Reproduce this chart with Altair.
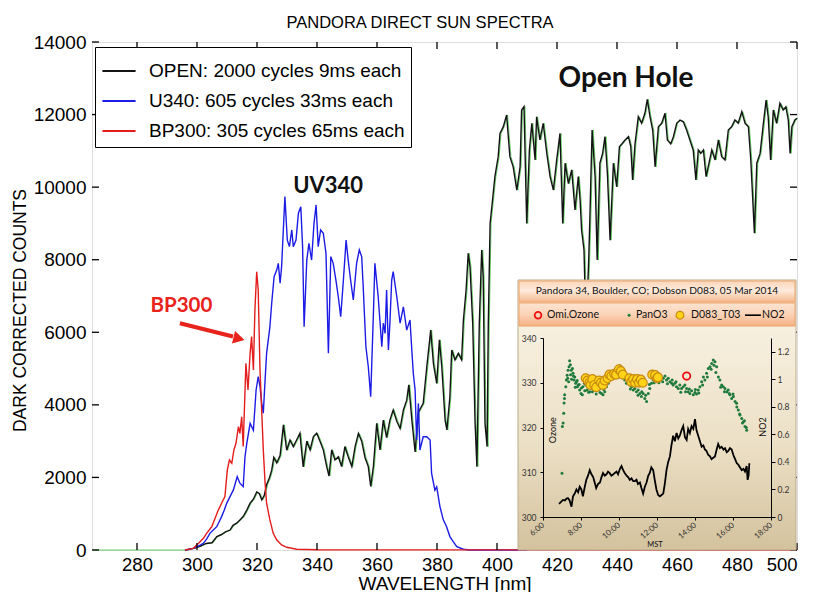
import altair as alt
import pandas as pd

# ---------------- text ----------------
TITLE = "PANDORA DIRECT SUN SPECTRA"
X_TITLE = "WAVELENGTH [nm]"
Y_TITLE = "DARK CORRECTED COUNTS"
X_TICKS = [280, 300, 320, 340, 360, 380, 400, 420, 440, 460, 480, 500]
Y_TICKS = [0, 2000, 4000, 6000, 8000, 10000, 12000, 14000]
SERIES = ["OPEN: 2000 cycles 9ms each", "U340: 605 cycles 33ms each", "BP300: 305 cycles 65ms each"]
SERIES_COLORS = ["#141414", "#1c1ce6", "#e41c1c"]

# ---------------- spectra (wavelength nm, counts) ----------------
OPEN_SPEC = [
    [265, 0], [280, 0], [296, 0], [297, 10], [299, 50], [301, 100], [303, 180], [305, 200],
    [306.6, 370], [308, 420], [309.5, 500], [311, 550], [312, 680], [313.2, 740], [314.3, 830],
    [315.4, 920], [316.6, 1100], [317.7, 1290], [318.8, 1400], [319.9, 1600], [320.8, 1550],
    [321.6, 1380], [322.4, 1500], [323.2, 1800], [324.2, 2000], [324.9, 2200], [325.6, 2550],
    [326.6, 2400], [327.7, 2600], [328.8, 3450], [329.9, 2750], [331, 3030], [332.1, 2850],
    [333.2, 3030], [334.3, 3215], [335.4, 2290], [336.6, 3000], [337.7, 2760], [338.8, 3125],
    [339.9, 3215], [341, 3000], [342.1, 2760], [343.2, 2310], [344, 2040], [344.9, 2760],
    [346, 2480], [347.1, 2570], [348.2, 2300], [349.3, 2850], [350.4, 2570], [351.6, 2300],
    [352.7, 2850], [353.8, 3215], [354.9, 3000], [356, 2550], [357.1, 2300], [357.9, 1750],
    [358.8, 2300], [359.9, 3490], [361, 2760], [362.1, 3580], [363.2, 3100], [364.3, 3580],
    [365.4, 3860], [366.6, 3550], [367.7, 3350], [368.8, 3860], [369.9, 4130], [370.6, 4550],
    [371.6, 3600], [372.7, 2700], [373.8, 3800], [375.4, 4040], [376.6, 5050], [377.9, 6060],
    [378.8, 5145], [379.9, 4590], [380.8, 5790], [381.6, 5050], [382.7, 3580], [383.3, 3310],
    [384.3, 4225], [384.9, 5510], [386, 5240], [387.1, 5420], [388.2, 5240], [388.8, 6340],
    [389.7, 7165], [390.4, 8177], [391, 7810], [391.9, 6250], [392.7, 3490], [393.3, 2297],
    [394.1, 6250], [394.9, 8270], [395.4, 7530], [396, 3490], [396.7, 2850], [397.1, 6250],
    [397.7, 9000], [398.4, 9555], [399.3, 10290], [400.4, 10840], [401, 11480], [402.1, 11667],
    [403.2, 11990], [404.3, 10840], [405.4, 10560], [406.6, 9920], [407.7, 10560], [408.2, 12125],
    [409, 12220], [409.9, 9000], [410.8, 11025], [411.6, 11760], [412.7, 10750], [413.2, 11940],
    [414.3, 11300], [415.4, 11760], [416.6, 10930], [417.7, 10290], [418.8, 9920], [419.9, 10750],
    [421, 11480], [421.9, 9000], [422.7, 10660], [423.8, 10100], [424.9, 10475], [426, 9370],
    [427.1, 10290], [427.7, 9645], [428.2, 8820], [429, 8270], [429.6, 6300], [430.1, 6900],
    [430.6, 8085], [431, 9280], [431.7, 11575], [432.7, 10290], [433.4, 7990], [434.3, 10660],
    [435.2, 10930], [436, 11390], [436.8, 10380], [437.7, 8540], [438.8, 10660], [439.9, 10010],
    [440.8, 11115], [441.6, 11190], [442.7, 11300], [443.8, 11390], [444.6, 11115], [445.2, 10200],
    [446, 11190], [447.1, 11940], [448.2, 11760], [449.3, 12035], [450.1, 12420], [451, 11940],
    [451.9, 11575], [452.7, 10560], [453.8, 11665], [454.9, 11760], [456, 12035], [456.8, 11300],
    [457.9, 11190], [458.8, 11390], [459.9, 11760], [461, 11850], [462.1, 11800], [463.2, 11575],
    [464.3, 11300], [465.4, 11025], [466.3, 10200], [467.1, 11025], [467.9, 10930], [468.8, 11025],
    [469.7, 10290], [470.4, 10560], [471.6, 11025], [472.7, 10750], [473.8, 11300], [474.9, 10840],
    [476, 10750], [477.1, 11575], [478.2, 11665], [479.3, 11850], [480.4, 11760], [481.6, 12080],
    [482.7, 11760], [483.8, 11665], [484.6, 10750], [485.2, 9740], [485.8, 8730], [486.6, 10660],
    [487.7, 10930], [488.8, 11760], [489.7, 12400], [490.4, 11940], [491.2, 10750], [492.1, 12125],
    [493.2, 11760], [494.3, 12310], [495.4, 12125], [496.3, 12215], [497.1, 11850], [497.7, 10930],
    [498.3, 11665], [499.3, 11850], [500, 11900],
]

U340_SPEC = [
    [296, 0], [298.8, 46], [300.5, 110], [302.1, 184], [303.2, 300], [304.3, 460], [305.5, 560],
    [306.6, 643], [307.5, 800], [308.2, 920], [309.1, 1100], [309.9, 1286], [311, 1470],
    [312.1, 1650], [313.4, 2020], [314.3, 1840], [315.4, 1745], [316, 2570], [316.6, 2940],
    [317.7, 3490], [318.8, 3300], [319.7, 4410], [320.4, 4780], [321, 4500], [321.6, 4040],
    [322.1, 3770], [322.7, 4690], [323.2, 5420], [324.3, 6150], [324.9, 6800], [325.7, 7530],
    [326.6, 7720], [327.1, 7900], [327.7, 7350], [328.2, 7810], [329.3, 9740], [330.1, 8540],
    [330.8, 8360], [331.6, 8820], [332.1, 8360], [333, 8540], [333.8, 9280], [334.6, 9460],
    [335.2, 8360], [335.7, 6150], [336.6, 7990], [337.3, 8450], [338.2, 7990], [339, 9000],
    [339.7, 9510], [340.4, 8360], [341.2, 8820], [342.1, 8730], [343, 8177], [343.8, 5420],
    [344.6, 8085], [345.4, 7900], [346.3, 7440], [347.1, 6980], [347.9, 6430], [348.8, 7440],
    [349.7, 8540], [350.4, 7990], [351.2, 7440], [352.1, 6890], [353.2, 7900], [354.1, 8270],
    [354.9, 8085], [355.4, 7260], [356.3, 5600], [357.1, 5050], [357.9, 4225], [358.8, 6520],
    [359.3, 7900], [360.4, 6980], [361.6, 5600], [362.1, 6250], [362.7, 5970], [363.2, 7165],
    [363.8, 5510], [364.3, 6250], [364.9, 7440], [365.4, 7670], [366.6, 6980], [367.7, 6250],
    [368.8, 6700], [369.9, 6060], [371, 6340], [371.6, 5510], [372.1, 4870], [372.7, 4410],
    [373.2, 3030], [373.8, 4040], [374.3, 2756], [375.4, 3120], [376.6, 3120], [377.7, 3030],
    [378.2, 2110], [379.3, 1650], [379.9, 1740], [381, 1190], [382.1, 830], [383.2, 640],
    [384.3, 370], [385.4, 230], [386.6, 90], [388.8, 20], [391, 0], [410, 0],
]

BP300_SPEC = [
    [296, 0], [298.8, 46], [301, 230], [302.2, 330], [303.2, 460], [304.9, 640], [306, 870],
    [307.1, 1100], [308.2, 1290], [309.3, 1470], [310.1, 2200], [310.8, 2480], [311.6, 2390],
    [312.3, 2756], [313, 2940], [313.8, 3400], [314.3, 3215], [314.9, 3670], [315.4, 2850],
    [316.3, 5145], [317, 4410], [317.7, 5420], [318.2, 5880], [318.8, 4960], [319.3, 6615],
    [319.9, 7670], [320.4, 7165], [321, 4960], [321.6, 3770], [322.1, 2756], [322.7, 1840],
    [323.2, 1290], [324.3, 830], [325.4, 460], [326.6, 275], [328.2, 140], [329.9, 75],
    [333.2, 20], [340, 5], [500, 0],
]

# ---------------- inset: Pandora 34 / Dobson D083, 05 Mar 2014 ----------------
INSET_TITLE = "Pandora 34, Boulder, CO; Dobson D083, 05 Mar 2014"
INSET_LEGEND = ["Omi.Ozone", "PanO3", "D083_T03", "NO2"]
INSET_X_TICKS = [6, 8, 10, 12, 14, 16, 18]
INSET_OZ_TICKS = [300, 310, 320, 330, 340]
INSET_NO2_TICKS = [0, 0.2, 0.4, 0.6, 0.8, 1.0, 1.2]

PAN_O3 = [  # (hour MST, ozone DU)
    [7.0, 309.8], [7.02, 320.2], [7.06, 321.0], [7.09, 323.2], [7.11, 325.5], [7.13, 326.5],
    [7.14, 327.3], [7.2, 329.1], [7.23, 330.6], [7.27, 331.7], [7.3, 331.0], [7.32, 332.8],
    [7.35, 330.2], [7.37, 333.6], [7.4, 334.9], [7.44, 334.0], [7.45, 331.8], [7.49, 332.8],
    [7.5, 330.8], [7.55, 333.2], [7.58, 332.1], [7.6, 331.5], [7.63, 330.6], [7.67, 331.3],
    [7.7, 329.0], [7.72, 329.9], [7.76, 330.2], [7.8, 330.5], [7.81, 329.1], [7.86, 329.5],
    [7.9, 329.6], [7.93, 328.4], [8.0, 327.6], [8.02, 328.8], [8.07, 327.3], [8.1, 329.1],
    [8.18, 329.9], [8.2, 328.2], [8.25, 329.5], [8.32, 328.4], [8.39, 329.1], [8.4, 327.9],
    [8.46, 328.0], [8.55, 328.7], [8.6, 328.0], [8.64, 329.5], [8.72, 328.4], [8.8, 327.5],
    [8.81, 329.1], [8.9, 329.9], [8.99, 328.7], [9.0, 327.8], [9.08, 327.6], [9.16, 327.3],
    [9.2, 328.5], [9.25, 328.0], [9.34, 329.1], [9.43, 329.9], [9.45, 330.5], [9.51, 330.6],
    [9.6, 331.3], [9.65, 330.9], [9.69, 332.1], [9.78, 331.3], [9.87, 332.4], [9.9, 331.2],
    [9.96, 333.2], [10.04, 333.8], [10.1, 331.9], [10.13, 332.8], [10.22, 331.7], [10.3, 330.6],
    [10.35, 330.9], [10.39, 329.9], [10.48, 330.2], [10.57, 329.5], [10.6, 328.6], [10.66, 329.1],
    [10.75, 328.4], [10.8, 329.7], [10.83, 328.7], [10.92, 328.0], [11.0, 327.2], [11.01, 328.4],
    [11.1, 327.6], [11.18, 326.9], [11.2, 328.0], [11.27, 327.6], [11.36, 326.5], [11.4, 327.2],
    [11.45, 325.8], [11.54, 327.6], [11.6, 329.6], [11.62, 328.7], [11.71, 329.9], [11.8, 330.6],
    [11.85, 330.0], [11.89, 331.3], [11.98, 331.7], [12.06, 331.0], [12.1, 330.0], [12.15, 330.6],
    [12.24, 331.3], [12.3, 330.2], [12.33, 331.0], [12.42, 331.5], [12.5, 330.6], [12.55, 329.8],
    [12.59, 331.0], [12.68, 330.2], [12.77, 329.9], [12.8, 330.6], [12.85, 329.5], [12.94, 329.9],
    [13.0, 330.2], [13.03, 329.1], [13.12, 328.7], [13.2, 329.5], [13.25, 327.9], [13.29, 328.7],
    [13.38, 329.1], [13.47, 329.5], [13.5, 328.0], [13.56, 328.7], [13.64, 328.0], [13.7, 328.6],
    [13.73, 327.6], [13.82, 328.2], [13.91, 327.3], [14.0, 327.8], [14.02, 328.5], [14.08, 327.5],
    [14.17, 328.4], [14.2, 327.7], [14.26, 329.1], [14.35, 330.2], [14.4, 329.5], [14.44, 331.3],
    [14.52, 330.6], [14.61, 332.1], [14.65, 331.3], [14.7, 333.2], [14.79, 333.6], [14.85, 333.0],
    [14.88, 334.3], [14.96, 335.1], [15.0, 333.9], [15.05, 334.7], [15.1, 332.3], [15.14, 333.6],
    [15.23, 331.3], [15.31, 330.6], [15.35, 329.0], [15.4, 329.5], [15.49, 329.1], [15.55, 328.0],
    [15.58, 328.7], [15.67, 328.0], [15.75, 328.4], [15.8, 327.6], [15.84, 327.3], [15.93, 326.5],
    [16.0, 327.5], [16.02, 326.9], [16.11, 325.8], [16.19, 325.4], [16.2, 324.6], [16.28, 323.9],
    [16.35, 323.0], [16.37, 322.8], [16.46, 322.0], [16.5, 321.0], [16.55, 321.3], [16.6, 321.5],
    [16.63, 320.2], [16.7, 320.0], [16.72, 319.4],
]

D083_O3 = [
    [8.25, 331.0], [8.35, 330.5], [8.45, 330.0], [8.5, 329.5], [8.6, 330.8], [8.7, 329.5],
    [8.8, 329.0], [8.95, 330.5], [9.05, 330.0], [9.15, 329.5], [9.25, 330.5], [9.4, 331.0],
    [9.5, 331.8], [9.6, 331.5], [9.75, 332.0], [9.85, 331.8], [10.0, 333.0], [10.1, 332.6],
    [10.2, 331.8], [10.55, 331.0], [10.65, 330.2], [10.75, 330.8], [10.85, 330.0], [10.95, 330.8],
    [11.05, 330.0], [11.15, 330.7], [11.25, 330.0], [11.75, 331.8], [11.9, 331.7], [12.0, 331.0],
    [12.05, 331.2],
]

OMI_O3 = [[13.56, 331.5]]

NO2 = [
    [6.84, 0.095], [6.95, 0.11], [7.05, 0.124], [7.15, 0.12], [7.25, 0.135], [7.32, 0.136],
    [7.4, 0.12], [7.5, 0.075], [7.58, 0.15], [7.67, 0.17], [7.76, 0.2], [7.85, 0.18],
    [7.93, 0.22], [8.02, 0.2], [8.1, 0.15], [8.2, 0.22], [8.28, 0.27], [8.37, 0.3],
    [8.46, 0.34], [8.55, 0.31], [8.64, 0.29], [8.72, 0.25], [8.8, 0.21], [8.9, 0.24],
    [9.0, 0.25], [9.08, 0.29], [9.16, 0.32], [9.25, 0.3], [9.34, 0.31], [9.42, 0.33],
    [9.5, 0.32], [9.6, 0.3], [9.7, 0.31], [9.78, 0.32], [9.87, 0.33], [9.95, 0.31],
    [10.05, 0.35], [10.13, 0.37], [10.22, 0.34], [10.3, 0.32], [10.4, 0.3], [10.48, 0.29],
    [10.57, 0.27], [10.66, 0.28], [10.75, 0.26], [10.83, 0.26], [10.92, 0.27], [11.0, 0.24],
    [11.1, 0.25], [11.18, 0.21], [11.27, 0.17], [11.36, 0.22], [11.45, 0.25], [11.54, 0.3],
    [11.62, 0.32], [11.7, 0.36], [11.8, 0.34], [11.88, 0.27], [11.97, 0.2], [12.06, 0.16],
    [12.15, 0.15], [12.24, 0.16], [12.33, 0.17], [12.42, 0.25], [12.5, 0.34], [12.59, 0.4],
    [12.68, 0.44], [12.76, 0.52], [12.85, 0.59], [12.94, 0.55], [13.03, 0.61], [13.12, 0.57],
    [13.2, 0.59], [13.29, 0.63], [13.38, 0.66], [13.47, 0.58], [13.56, 0.56], [13.64, 0.64],
    [13.73, 0.61], [13.82, 0.66], [13.91, 0.64], [14.0, 0.71], [14.08, 0.63], [14.17, 0.59],
    [14.26, 0.55], [14.35, 0.51], [14.44, 0.52], [14.52, 0.49], [14.6, 0.48], [14.7, 0.45],
    [14.79, 0.44], [14.87, 0.42], [14.96, 0.43], [15.05, 0.44], [15.14, 0.49], [15.22, 0.53],
    [15.31, 0.5], [15.4, 0.51], [15.5, 0.49], [15.58, 0.5], [15.67, 0.47], [15.75, 0.48],
    [15.84, 0.5], [15.93, 0.49], [16.02, 0.45], [16.11, 0.42], [16.2, 0.39], [16.28, 0.38],
    [16.37, 0.36], [16.46, 0.34], [16.55, 0.35], [16.63, 0.33], [16.72, 0.37], [16.77, 0.27],
    [16.82, 0.3], [16.86, 0.39],
]

# ---------------- data frames ----------------
def spec_df(rows, name):
    return pd.DataFrame({"wl": [r[0] for r in rows], "ct": [r[1] for r in rows], "series": name})

open_all = spec_df(OPEN_SPEC, SERIES[0])
spectra = pd.concat([
    open_all[open_all.wl >= 296],
    spec_df(U340_SPEC, SERIES[1]),
    spec_df(BP300_SPEC, SERIES[2]),
], ignore_index=True)

pan_df = pd.DataFrame({"t": [r[0] for r in PAN_O3], "oz": [r[1] for r in PAN_O3]})
dob_df = pd.DataFrame({"t": [r[0] for r in D083_O3], "oz": [r[1] for r in D083_O3]})
omi_df = pd.DataFrame({"t": [r[0] for r in OMI_O3], "oz": [r[1] for r in OMI_O3]})
no2_df = pd.DataFrame({"t": [r[0] for r in NO2], "no2": [r[1] for r in NO2]})
one = pd.DataFrame({"k": [0]})

# ---------------- scales ----------------
FONT = "Liberation Sans"
SFONT = "Lato"
XS = alt.Scale(domain=[265, 500], nice=False, zero=False)
YS = alt.Scale(domain=[0, 14000], nice=False, zero=False)
TS = alt.Scale(domain=[6, 18], range=[451, 679], nice=False, zero=False)
OS = alt.Scale(domain=[300, 340], range=[475, 296], nice=False, zero=False)
NS = alt.Scale(domain=[0, 1.3], range=[475, 296], nice=False, zero=False)

def mx(field="wl"):
    return alt.X(f"{field}:Q", scale=XS, axis=None)

def my(field="ct"):
    return alt.Y(f"{field}:Q", scale=YS, axis=None)

def ix(field="t"):
    return alt.X(f"{field}:Q", scale=TS, axis=None)

def iy(field="oz"):
    return alt.Y(f"{field}:Q", scale=OS, axis=None)

# ---------------- main layers ----------------
title_layer = alt.Chart(pd.DataFrame({"txt": [TITLE]})).mark_text(
    font=FONT, fontSize=16.5, color="black", align="center", baseline="alphabetic").encode(
    x=alt.value(328), y=alt.value(-14), text="txt:N")

green_under = alt.Chart(open_all).mark_line(color="#3cbf3c", strokeWidth=0.9, xOffset=1.0,
                                            opacity=0.85).encode(
    x=mx(), y=my(), order="wl:Q"
)

spec_layer = alt.Chart(spectra).mark_line(strokeWidth=1.4).encode(
    x=alt.X("wl:Q", scale=XS, axis=alt.Axis(
        values=X_TICKS, title=X_TITLE, ticks=False, domain=False, grid=False,
        labelFont=FONT, labelFontSize=18.5, labelColor="black", labelPadding=5,
        titleFont=FONT, titleFontSize=19, titleFontWeight="normal", titleColor="black",
        titleY=39, titleBaseline="alphabetic")),
    y=alt.Y("ct:Q", scale=YS, axis=alt.Axis(
        values=Y_TICKS, format="d", title=Y_TITLE, ticks=False, domain=False, grid=False,
        labelFont=FONT, labelFontSize=19, labelColor="black", labelPadding=6,
        titleFont=FONT, titleFontSize=17.5, titleFontWeight="normal", titleColor="black",
        titleAngle=270, titleX=-72, titleY=268, titleAlign="center", titleBaseline="middle")),
    color=alt.Color("series:N", scale=alt.Scale(domain=SERIES, range=SERIES_COLORS),
                    legend=alt.Legend(title=None, orient="none", legendX=3, legendY=5,
                                      symbolType="stroke", symbolSize=1100, symbolStrokeWidth=2,
                                      labelFont=FONT, labelFontSize=19, labelColor="black",
                                      labelLimit=400, labelOffset=12, padding=6, rowPadding=2,
                                      strokeColor="black", fillColor="white", cornerRadius=0)),
    order="wl:Q",
)

xt = pd.DataFrame({"v": X_TICKS})
yt = pd.DataFrame({"v": Y_TICKS})
tick_b = alt.Chart(xt).mark_rule(color="black", strokeWidth=1.3).encode(
    x=alt.X("v:Q", scale=XS, axis=None), y=alt.value(508), y2=alt.value(501))
tick_t = alt.Chart(xt).mark_rule(color="black", strokeWidth=1.3).encode(
    x=alt.X("v:Q", scale=XS, axis=None), y=alt.value(0), y2=alt.value(7))
tick_l = alt.Chart(yt).mark_rule(color="black", strokeWidth=1.3).encode(
    y=alt.Y("v:Q", scale=YS, axis=None), x=alt.value(0), x2=alt.value(7))
tick_r = alt.Chart(yt).mark_rule(color="black", strokeWidth=1.3).encode(
    y=alt.Y("v:Q", scale=YS, axis=None), x=alt.value(705), x2=alt.value(698))

def label(text, wl, ct, size, color="#111111"):
    d = pd.DataFrame({"txt": [text], "wl": [wl], "ct": [ct]})
    return alt.Chart(d).mark_text(font=SFONT, fontWeight="bold", fontSize=size, color=color,
                                  align="center", baseline="alphabetic").encode(
        x=mx(), y=my(), text="txt:N")

lab_open = label("Open Hole", 443, 12760, 28)
lab_uv = label("UV340", 343.7, 9839, 22)
lab_bp = label("BP300", 294.8, 6559, 20.5, "#e8231c")

arrow_d = pd.DataFrame({"wl": [294.3], "ct": [6248], "wl2": [312.0], "ct2": [5884]})
arrow_shaft = alt.Chart(arrow_d).mark_rule(color="#e8231c", strokeWidth=4).encode(
    x=mx(), y=my(), x2="wl2:Q", y2="ct2:Q")
arrow_head = alt.Chart(pd.DataFrame({"wl": [314.0], "ct": [5826]})).mark_point(
    shape="triangle-right", filled=True, color="#e8231c", size=170, angle=14, opacity=1).encode(
    x=mx(), y=my())

# ---------------- inset ----------------
def grad(stops):
    return alt.LinearGradient(gradient="linear", x1=0, x2=0, y1=0, y2=1,
                              stops=[alt.GradientStop(color=c, offset=o) for o, c in stops])

inset_bg = alt.Chart(one).mark_rect(
    fill=grad([(0, "#fcf6ea"), (0.6, "#ece0c6"), (1, "#d3c29d")]),
    stroke="#b9ab8c", strokeWidth=1).encode(
    x=alt.value(426), x2=alt.value(704), y=alt.value(238), y2=alt.value(508))
inset_head = alt.Chart(one).mark_rect(
    fill=grad([(0, "#fbd6ba"), (0.45, "#fdebdc"), (1, "#f6b98d")]),
    stroke="#eda46a", strokeWidth=1).encode(
    x=alt.value(427), x2=alt.value(703), y=alt.value(239), y2=alt.value(260))
inset_leg = alt.Chart(one).mark_rect(
    fill=grad([(0, "#fde4d1"), (0.5, "#fbd3b6"), (1, "#f5b285")]),
    stroke="#eda46a", strokeWidth=1).encode(
    x=alt.value(427), x2=alt.value(703), y=alt.value(261), y2=alt.value(284))

pan_layer = alt.Chart(pan_df).mark_circle(size=9, color="#1f7a3c", opacity=1).encode(
    x=alt.X("t:Q", scale=TS, axis=alt.Axis(
        orient="bottom", offset=-33, values=INSET_X_TICKS, labelExpr="datum.value + ':00'",
        labelAngle=320, labelAlign="right", labelBaseline="middle", labelPadding=4,
        labelFont=SFONT, labelFontSize=8, labelColor="#333333", tickSize=3, tickColor="black",
        domainColor="black", grid=False, title=None, zindex=2, labelFlush=False)),
    y=alt.Y("oz:Q", scale=OS, axis=alt.Axis(
        orient="left", offset=-451, values=INSET_OZ_TICKS, labelFont=SFONT, labelFontSize=8.5,
        labelColor="#333333", tickSize=3, tickColor="black", domainColor="black", grid=False,
        title=None, zindex=2, labelPadding=4)),
)
dob_layer = alt.Chart(dob_df).mark_circle(size=80, color="#ffd418", stroke="#c98a12",
                                          strokeWidth=1.2, opacity=1).encode(x=ix(), y=iy())
omi_layer = alt.Chart(omi_df).mark_point(shape="circle", size=55, color="#ee1111",
                                         strokeWidth=1.8, filled=False, opacity=1).encode(x=ix(), y=iy())
no2_layer = alt.Chart(no2_df).mark_line(color="black", strokeWidth=1.8).encode(
    x=ix(),
    y=alt.Y("no2:Q", scale=NS, axis=alt.Axis(
        orient="right", offset=-26, values=INSET_NO2_TICKS, format="~g", labelFont=SFONT,
        labelFontSize=8.5, labelColor="#333333", tickSize=4, tickColor="black",
        domainColor="black", grid=False, title=None, zindex=2, labelPadding=2)),
)

def itext(text, t, oz, size, align="center", angle=0, weight="normal", color="#111111"):
    d = pd.DataFrame({"txt": [text], "t": [t], "oz": [oz]})
    return alt.Chart(d).mark_text(font=SFONT, fontSize=size, align=align, baseline="middle",
                                  angle=angle, fontWeight=weight, color=color).encode(
        x=ix(), y=iy(), text="txt:N")

head_txt = itext(INSET_TITLE, 12.0, 350.5, 10.2)
leg_y = 345.1
leg_omi = alt.Chart(pd.DataFrame({"t": [5.74], "oz": [leg_y]})).mark_point(
    shape="circle", size=45, color="#ee1111", strokeWidth=1.8, filled=False, opacity=1).encode(x=ix(), y=iy())
leg_pan = alt.Chart(pd.DataFrame({"t": [10.53], "oz": [leg_y]})).mark_circle(
    size=9, color="#1f7a3c", opacity=1).encode(x=ix(), y=iy())
leg_dob = alt.Chart(pd.DataFrame({"t": [13.21], "oz": [leg_y]})).mark_circle(
    size=60, color="#ffd418", stroke="#c98a12", strokeWidth=1.2, opacity=1).encode(x=ix(), y=iy())
leg_no2 = alt.Chart(pd.DataFrame({"t": [16.63], "t2": [17.47], "oz": [leg_y]})).mark_rule(
    color="black", strokeWidth=1.6).encode(x=ix(), x2="t2:Q", y=iy())
leg_t1 = itext(INSET_LEGEND[0], 6.21, leg_y, 10.5, "left")
leg_t2 = itext(INSET_LEGEND[1], 10.89, leg_y, 10.5, "left")
leg_t3 = itext(INSET_LEGEND[2], 13.79, leg_y, 10.5, "left")
leg_t4 = itext(INSET_LEGEND[3], 17.53, leg_y, 10.5, "left")
oz_title = itext("Ozone", 6.53, 319.4, 9, angle=270)
no2_title = itext("NO2", 17.58, 320.1, 9, angle=270)
mst_title = itext("MST", 11.89, 293.7, 7.5)

chart = alt.layer(
    title_layer, green_under, spec_layer, tick_b, tick_t, tick_l, tick_r,
    lab_open, lab_uv, lab_bp, arrow_shaft, arrow_head,
    inset_bg, inset_head, inset_leg,
    no2_layer, pan_layer, dob_layer, omi_layer,
    head_txt, leg_omi, leg_pan, leg_dob, leg_no2, leg_t1, leg_t2, leg_t3, leg_t4,
    oz_title, no2_title, mst_title,
).resolve_scale(
    x="independent", y="independent", color="independent"
).properties(
    width=705, height=508,
    autosize=alt.AutoSizeParams(type="none"),
    padding={"left": 84, "top": 34, "right": 8, "bottom": 42},
).configure_view(
    stroke="black", strokeWidth=1.5
).configure(background="white")

chart.save("out.html", embed_options={"renderer": "svg", "actions": False})
